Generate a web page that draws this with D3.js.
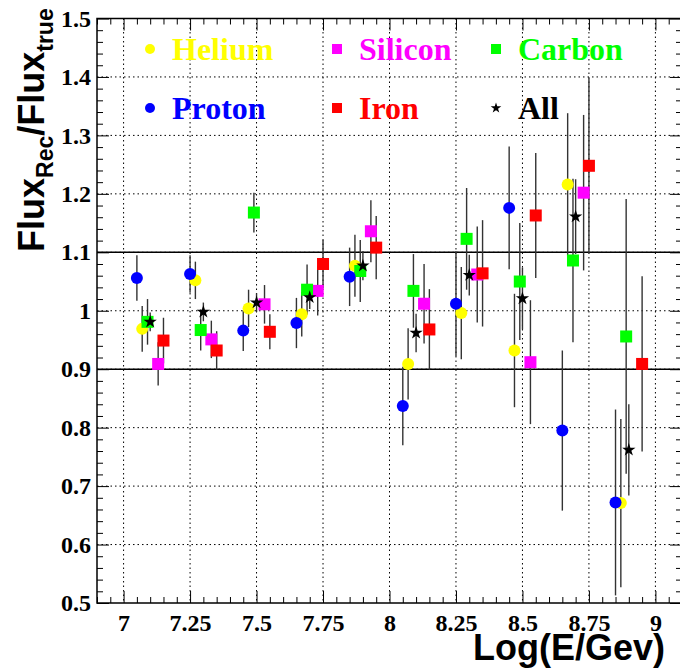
<!DOCTYPE html>
<html>
<head>
<meta charset="utf-8">
<script src="https://cdn.jsdelivr.net/npm/d3@7"></script>
<style>
  body { margin: 0; background: #fff; }
  svg { display: block; }
  .tick text { font-family: "Liberation Serif", "Times New Roman", serif; font-weight: bold; font-size: 24px; fill: #000; }
  .tick line { stroke: #000; stroke-width: 1; }
</style>
</head>
<body>
<svg width="680" height="668"></svg>
<script>
// energy positions, ratio values and errors for every species
const protonX = [7.05, 7.25, 7.45, 7.65, 7.85, 8.05, 8.25, 8.45, 8.65, 8.85];
const protonY = [1.056, 1.063, 0.966, 0.979, 1.058, 0.837, 1.012, 1.176, 0.795, 0.672];
const protonErr = [0.039, 0.032, 0.035, 0.043, 0.050, 0.067, 0.090, 0.105, 0.137, 0.159];

const heliumX = [7.07, 7.27, 7.47, 7.67, 7.87, 8.07, 8.27, 8.47, 8.67, 8.87];
const heliumY = [0.969, 1.052, 1.004, 0.994, 1.077, 0.909, 0.996, 0.932, 1.216, 0.671];
const heliumErr = [0.039, 0.032, 0.032, 0.038, 0.053, 0.061, 0.079, 0.097, 0.122, 0.144];

const carbonX = [7.09, 7.29, 7.49, 7.69, 7.89, 8.09, 8.29, 8.49, 8.69, 8.89];
const carbonY = [0.981, 0.967, 1.168, 1.036, 1.068, 1.034, 1.123, 1.050, 1.086, 0.956];
const carbonErr = [0.039, 0.035, 0.034, 0.043, 0.053, 0.063, 0.087, 0.100, 0.140, 0.235];

const allX = [7.10, 7.30, 7.50, 7.70, 7.90, 8.10, 8.30, 8.50, 8.70, 8.90];
const allY = [0.981, 0.998, 1.014, 1.023, 1.077, 0.962, 1.061, 1.021, 1.161, 0.762];
const allErr = [0.016, 0.016, 0.016, 0.020, 0.025, 0.033, 0.035, 0.053, 0.064, 0.078];

const siliconX = [7.13, 7.33, 7.53, 7.73, 7.93, 8.13, 8.33, 8.53, 8.73];
const siliconY = [0.909, 0.951, 1.011, 1.034, 1.136, 1.012, 1.062, 0.912, 1.202];
const siliconErr = [0.037, 0.032, 0.033, 0.042, 0.053, 0.068, 0.082, 0.106, 0.133];

const ironX = [7.15, 7.35, 7.55, 7.75, 7.95, 8.15, 8.35, 8.55, 8.75, 8.95];
const ironY = [0.949, 0.932, 0.964, 1.080, 1.108, 0.968, 1.064, 1.163, 1.248, 0.909];
const ironErr = [0.039, 0.033, 0.030, 0.041, 0.054, 0.069, 0.091, 0.107, 0.150, 0.150];

// axis ticks
const xTickValues = [7, 7.25, 7.5, 7.75, 8, 8.25, 8.5, 8.75, 9];
const xTickLabels = ["7", "7.25", "7.5", "7.75", "8", "8.25", "8.5", "8.75", "9"];
const yTickValues = [0.5, 0.6, 0.7, 0.8, 0.9, 1, 1.1, 1.2, 1.3, 1.4, 1.5];
const yTickLabels = ["0.5", "0.6", "0.7", "0.8", "0.9", "1", "1.1", "1.2", "1.3", "1.4", "1.5"];
const bandLines = [0.9, 1.1];

// series table
const series = [
    { name: "Helium",  xs: heliumX,  ys: heliumY,  errs: heliumErr,  color: "#ffff00", shape: "circle" },
    { name: "Silicon", xs: siliconX, ys: siliconY, errs: siliconErr, color: "#ff00ff", shape: "square" },
    { name: "Carbon",  xs: carbonX,  ys: carbonY,  errs: carbonErr,  color: "#00ff00", shape: "square" },
    { name: "Proton",  xs: protonX,  ys: protonY,  errs: protonErr,  color: "#0000ff", shape: "circle" },
    { name: "Iron",    xs: ironX,    ys: ironY,    errs: ironErr,    color: "#ff0000", shape: "square" },
    { name: "All",     xs: allX,     ys: allY,     errs: allErr,     color: "#000000", shape: "star" }
];

const svg = d3.select("svg");
const plotLeft = 97, plotRight = 682, plotTop = 18.5, plotBottom = 603;

const scaleX = d3.scaleLinear().domain([6.9, 9.1]).range([plotLeft, plotRight]);
const scaleY = d3.scaleLinear().domain([0.5, 1.5]).range([plotBottom, plotTop]);

// minor ticks
const xMinor = d3.range(138, 182).map(v => v / 20).filter(v => !xTickValues.includes(v));
const yMinor = d3.range(25, 76).map(v => v / 50).filter(v => !yTickValues.some(t => Math.abs(t - v) < 1e-9));

// dotted grid
const grid = svg.append("g");
grid.selectAll(".gx")
    .data(xTickValues)
    .enter()
    .append("line")
    .attr("x1", d => scaleX(d)).attr("x2", d => scaleX(d))
    .attr("y1", plotTop).attr("y2", plotBottom)
    .attr("stroke", "#000").attr("stroke-width", 1)
    .attr("stroke-dasharray", "1.5,3");
grid.selectAll(".gy")
    .data(yTickValues.slice(1, -1))
    .enter()
    .append("line")
    .attr("x1", plotLeft).attr("x2", plotRight)
    .attr("y1", d => scaleY(d)).attr("y2", d => scaleY(d))
    .attr("stroke", "#000").attr("stroke-width", 1)
    .attr("stroke-dasharray", "1.5,3");

// solid lines at 0.9 and 1.1
svg.selectAll(".band")
    .data(bandLines)
    .enter()
    .append("line")
    .attr("x1", plotLeft).attr("x2", plotRight)
    .attr("y1", d => scaleY(d)).attr("y2", d => scaleY(d))
    .attr("stroke", "#000").attr("stroke-width", 1.5);

// axes with inward ticks
function addAxis(axis, transform) {
    const g = svg.append("g").attr("transform", transform).call(axis);
    g.select(".domain").remove();
    return g;
}
addAxis(d3.axisBottom(scaleX).tickValues(xTickValues).tickSize(-12).tickPadding(11)
    .tickFormat((d, i) => xTickLabels[i]), `translate(0,${plotBottom})`);
addAxis(d3.axisBottom(scaleX).tickValues(xMinor).tickSize(-6).tickFormat(""), `translate(0,${plotBottom})`);
addAxis(d3.axisTop(scaleX).tickValues(xTickValues).tickSize(-12).tickFormat(""), `translate(0,${plotTop})`);
addAxis(d3.axisTop(scaleX).tickValues(xMinor).tickSize(-6).tickFormat(""), `translate(0,${plotTop})`);
addAxis(d3.axisLeft(scaleY).tickValues(yTickValues).tickSize(-12).tickPadding(6)
    .tickFormat((d, i) => yTickLabels[i]), `translate(${plotLeft},0)`);
addAxis(d3.axisLeft(scaleY).tickValues(yMinor).tickSize(-6).tickFormat(""), `translate(${plotLeft},0)`);
addAxis(d3.axisRight(scaleY).tickValues(yTickValues).tickSize(-12).tickFormat(""), `translate(${plotRight},0)`);
addAxis(d3.axisRight(scaleY).tickValues(yMinor).tickSize(-6).tickFormat(""), `translate(${plotRight},0)`);

// frame
svg.append("rect")
    .attr("x", plotLeft).attr("y", plotTop)
    .attr("width", plotRight - plotLeft).attr("height", plotBottom - plotTop)
    .attr("fill", "none").attr("stroke", "#000").attr("stroke-width", 1.5);

// error bars first, markers on top
const plot = svg.append("g");
for (let s of series) {
    let pts = s.xs.map((xv, i) => ({ x: xv, y: s.ys[i], e: s.errs[i] }));
    plot.selectAll(null)
        .data(pts)
        .enter()
        .append("line")
        .attr("x1", d => scaleX(d.x)).attr("x2", d => scaleX(d.x))
        .attr("y1", d => scaleY(Math.min(d.y + d.e, 1.5)))
        .attr("y2", d => scaleY(Math.max(d.y - d.e, 0.5)))
        .attr("stroke", "#333").attr("stroke-width", 1.4);
}

function drawMarker(g, shape, color, cx, cy, big) {
    if (shape == "circle") {
        g.append("circle").attr("cx", cx).attr("cy", cy).attr("r", big ? 6 : 5).attr("fill", color);
    } else if (shape == "square") {
        let a = big ? 12 : 10;
        g.append("rect").attr("x", cx - a / 2).attr("y", cy - a / 2)
            .attr("width", a).attr("height", a).attr("fill", color);
    } else {
        g.append("path").attr("d", d3.symbol(d3.symbolStar, big ? 55 : 35)())
            .attr("transform", `translate(${cx},${cy})`).attr("fill", color);
    }
}

for (let s of series) {
    s.xs.forEach((xv, i) => drawMarker(plot, s.shape, s.color, scaleX(xv), scaleY(s.ys[i]), true));
}

// legend
const legendCols = [150, 337, 496];
const legendRows = [49, 108];
const legend = svg.append("g");
series.forEach((s, i) => {
    let cx = legendCols[i % 3];
    let cy = legendRows[Math.floor(i / 3)];
    drawMarker(legend, s.shape, s.color, cx, cy, false);
    legend.append("text")
        .attr("x", cx + 22).attr("y", cy + 11)
        .attr("font-family", "Liberation Serif, Times New Roman, serif")
        .attr("font-weight", "bold").attr("font-size", 32)
        .attr("fill", s.color)
        .text(s.name);
});

// axis titles
svg.append("text")
    .attr("x", 665).attr("y", 660)
    .attr("text-anchor", "end")
    .attr("font-family", "Liberation Sans, Arial, sans-serif")
    .attr("font-weight", "bold").attr("font-size", 36)
    .text("Log(E/Gev)");

const yTitle = svg.append("text")
    .attr("transform", "translate(44,252) rotate(-90)")
    .attr("font-family", "Liberation Sans, Arial, sans-serif")
    .attr("font-weight", "bold").attr("font-size", 36);
yTitle.append("tspan").text("Flux");
yTitle.append("tspan").attr("font-size", 23).attr("dy", 9).text("Rec");
yTitle.append("tspan").attr("dy", -9).text("/Flux");
yTitle.append("tspan").attr("font-size", 23).attr("dy", 9).text("true");
</script>
</body>
</html>
